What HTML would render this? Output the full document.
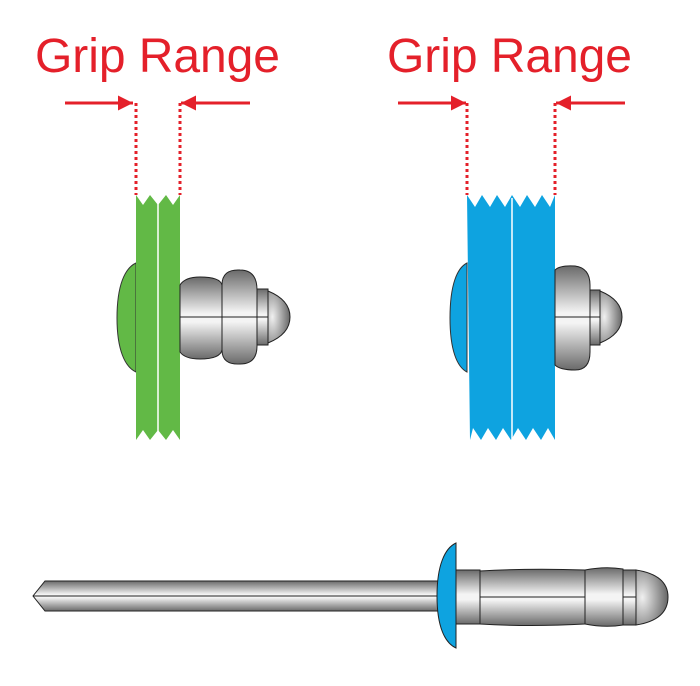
<!DOCTYPE html>
<html><head><meta charset="utf-8"><style>body{margin:0;background:#fff}svg{display:block}</style></head><body>
<svg width="700" height="686" viewBox="0 0 700 686" xmlns="http://www.w3.org/2000/svg">
<defs>
<linearGradient id="m" x1="0" y1="0" x2="0" y2="1">
<stop offset="0" stop-color="#6a6a6a"/><stop offset="0.45" stop-color="#f4f4f4"/><stop offset="0.55" stop-color="#f4f4f4"/><stop offset="1" stop-color="#6a6a6a"/>
</linearGradient>
<radialGradient id="d" cx="0.2" cy="0.5" r="0.9"><stop offset="0" stop-color="#f0f0f0"/><stop offset="1" stop-color="#555"/></radialGradient>
<marker id="a" viewBox="0 0 10 10" refX="10" refY="5" markerWidth="5" markerHeight="5" orient="auto"><path d="M0,0L10,5L0,10z" fill="#e4202a"/></marker>
</defs>
<g font-family="Liberation Sans, sans-serif" font-size="48" fill="#e4202a">
<text x="35" y="72" textLength="245">Grip Range</text><text x="387" y="72" textLength="245">Grip Range</text></g>
<g stroke="#e4202a" stroke-width="3">
<line x1="65" y1="103" x2="133" y2="103" marker-end="url(#a)"/>
<line x1="250" y1="103" x2="181" y2="103" marker-end="url(#a)"/>
<line x1="398" y1="103" x2="466" y2="103" marker-end="url(#a)"/>
<line x1="625" y1="103" x2="556" y2="103" marker-end="url(#a)"/>
<g stroke-dasharray="3,3"><line x1="136" y1="103" x2="136" y2="195"/><line x1="180" y1="103" x2="180" y2="195"/><line x1="467" y1="103" x2="467" y2="195"/><line x1="555" y1="103" x2="555" y2="195"/></g>
</g>
<path d="M117,318C117,285 125,268 136,263V372C125,367 117,350 117,318Z" fill="#62b946" stroke="#333" stroke-width="1"/>
<path d="M136,195l7,10 7,-10 8,10 8,-10 7,10 7,-10V440l-7,-10 -7,10 -8,-10 -8,10 -7,-10 -7,10Z" fill="#62b946"/>
<line x1="158" y1="198" x2="158" y2="440" stroke="#fff" stroke-width="1.5"/>
<g stroke="#222" stroke-width="1">
<path d="M180,285Q185,277 200,277Q220,277 222,285V350Q220,359 200,359Q185,359 180,352Z" fill="url(#m)"/>
<path d="M222,285Q222,269 240,270Q257,270 257,290V346Q257,364 240,364Q222,365 222,350Z" fill="url(#m)"/>
<rect x="257" y="289" width="11" height="56" fill="url(#m)"/>
<path d="M268,291Q290,300 290,317Q290,334 268,343Z" fill="url(#d)"/>
<line x1="180" y1="317" x2="268" y2="317"/></g>
<path d="M450,318C450,285 457,268 467,263V372C457,367 450,350 450,318Z" fill="#0ea3e0" stroke="#333" stroke-width="1"/>
<path d="M467,195l8,12 7,-12 8,12 7,-12 8,12 7,-12 8,12 7,-12 8,12 7,-12 8,12 5,-12V440l-7,-12 -7,12 -8,-12 -7,12 -8,-12 -7,12 -8,-12 -7,12 -8,-12 -7,12 -8,-12 -3,12Z" fill="#0ea3e0"/>
<line x1="512" y1="198" x2="512" y2="440" stroke="#fff" stroke-width="1.5"/>
<g stroke="#222" stroke-width="1">
<path d="M555,270Q560,265 575,266Q590,268 590,285V352Q590,370 575,370Q560,370 555,365Z" fill="url(#m)"/>
<rect x="590" y="290" width="10" height="55" fill="url(#m)"/>
<path d="M600,291Q622,300 622,317Q622,334 600,343Z" fill="url(#d)"/>
<line x1="555" y1="317" x2="600" y2="317"/></g>
<g stroke="#222" stroke-width="1">
<path d="M45,581H440V611H45L33,596Z" fill="url(#m)"/>
<path d="M33,596H440" fill="none"/>
<rect x="456" y="570" width="24" height="54" fill="url(#m)"/>
<path d="M480,571Q530,568 585,570V624Q530,627 480,624Z" fill="url(#m)"/>
<path d="M585,570Q605,566 623,569V625Q605,628 585,624Z" fill="url(#m)"/>
<rect x="623" y="570" width="13" height="55" fill="url(#m)"/>
<path d="M636,570Q668,575 668,597Q668,620 636,625Z" fill="url(#d)"/>
<line x1="480" y1="597" x2="585" y2="597"/><line x1="623" y1="597" x2="636" y2="597"/>
<path d="M437,596C437,565 445,548 456,543V648C445,643 437,627 437,596Z" fill="#0ea3e0"/>
</g>
</svg>
</body></html>
